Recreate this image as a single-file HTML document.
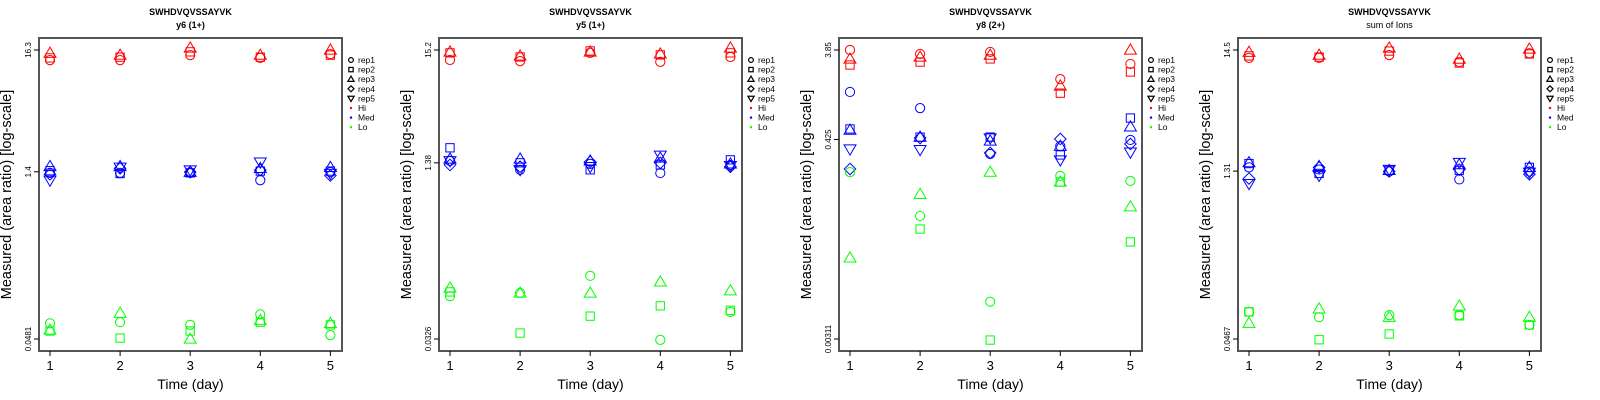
<!DOCTYPE html>
<html><head><meta charset="utf-8"><style>
html,body{margin:0;padding:0;background:#fff}
svg{display:block}
text{font-family:"Liberation Sans",Arial,sans-serif}
</style></head><body>
<svg id="chart" width="1600" height="400" xmlns="http://www.w3.org/2000/svg"></svg>
<script>
// ---------- data ----------
const days = [1, 2, 3, 4, 5];
const reps = ["rep1", "rep2", "rep3", "rep4", "rep5"];
const levels = ["Hi", "Med", "Lo"];
const panelTitles = ["y6 (1+)", "y5 (1+)", "y8 (2+)", "sum of Ions"];
const peptide = "SWHDVQVSSAYVK";
const tickLabels1 = ["0.0481", "1.4", "16.3"];
const tickLabels2 = ["0.0326", "1.38", "15.2"];
const tickLabels3 = ["0.00311", "0.425", "3.85"];
const tickLabels4 = ["0.0467", "1.31", "14.5"];
const tickValues1 = [0.0481, 1.4, 16.3];
const tickValues2 = [0.0326, 1.38, 15.2];
const tickValues3 = [0.00311, 0.425, 3.85];
const tickValues4 = [0.0467, 1.31, 14.5];
// values[day][rep] (null = not shown)
const p1Hi = [[13.3,13.9,15.3,null,null],[13.3,14.1,14.7,null,null],[14.7,15.7,17.0,null,null],[13.9,14.1,14.7,null,null],[15.0,14.7,16.3,null,null]];
const p1Med = [[1.37,1.43,1.56,1.33,1.18],[1.37,1.35,1.56,1.5,1.53],[1.37,1.37,1.39,1.39,1.45],[1.18,1.42,1.5,1.45,1.7],[1.39,1.42,1.53,1.3,1.35]];
const p1Lo = [[0.066,0.0565,0.0577,null,null],[0.0675,0.049,0.081,null,null],[0.064,0.0565,0.0481,null,null],[0.079,0.0675,0.070,null,null],[0.052,0.064,0.066,null,null]];
const p2Hi = [[12.3,14.3,14.6,null,null],[12.0,13.1,13.4,null,null],[14.3,14.9,14.6,null,null],[11.8,13.7,14.0,null,null],[13.1,14.3,15.9,null,null]];
const p2Med = [[1.44,1.90,1.50,1.32,1.44],[1.19,1.38,1.5,1.27,1.19],[1.35,1.19,1.44,1.41,1.27],[1.11,1.32,1.53,1.38,1.62],[1.32,1.47,1.35,1.27,1.30]];
const p2Lo = [[0.081,0.0887,0.0965,null,null],[0.0868,0.037,0.0868,null,null],[0.125,0.053,0.0868,null,null],[0.032,0.066,0.11,null,null],[0.058,0.060,0.091,null,null]];
const p3Hi = [[3.85,2.66,3.09,null,null],[3.49,2.86,3.24,null,null],[3.67,3.09,3.4,null,null],[1.88,1.33,1.59,null,null],[2.73,2.24,3.85,null,null]];
const p3Med = [[1.37,0.55,0.535,0.205,0.335],[0.92,0.45,0.45,0.44,0.33],[0.297,0.45,0.41,0.305,0.44],[0.36,0.29,0.36,0.43,0.256],[0.42,0.72,0.58,0.38,0.31]];
const p3Lo = [[0.19,null,0.023,null,null],[0.0644,0.0467,0.11,null,null],[0.0078,0.00303,0.19,null,null],[0.173,0.149,0.149,null,null],[0.153,0.034,0.081,null,null]];
const p4Hi = [[12.4,12.9,13.9,null,null],[12.4,12.6,13.1,null,null],[13.1,14.2,15.1,null,null],[11.4,11.2,12.1,null,null],[13.6,13.4,14.8,null,null]];
const p4Med = [[1.41,1.52,1.55,1.13,1.02],[1.35,1.25,1.44,1.41,1.2],[1.3,1.33,1.33,1.3,1.35],[1.11,1.33,1.49,1.35,1.55],[1.3,1.41,1.41,1.23,1.28]];
const p4Lo = [[0.080,0.080,0.064,null,null],[0.072,0.046,0.085,null,null],[0.075,0.0516,0.072,null,null],[0.075,0.074,0.090,null,null],[0.0617,0.0617,0.072,null,null]];

const panelData = [[p1Hi,p1Med,p1Lo],[p2Hi,p2Med,p2Lo],[p3Hi,p3Med,p3Lo],[p4Hi,p4Med,p4Lo]];
const panelTickLabels = [tickLabels1,tickLabels2,tickLabels3,tickLabels4];
const panelTickValues = [tickValues1,tickValues2,tickValues3,tickValues4];

// ---------- layout ----------
const boxLefts = [39, 439, 839, 1238];
const boxW = 303, boxTop = 38, boxBot = 351;
const yTop = 50, yBot = 339;
const colors = {Hi: "#ff0000", Med: "#0000ff", Lo: "#00ff00"};
const NS = "http://www.w3.org/2000/svg";
const svg = document.getElementById("chart");

function mk(tag, attrs, parent, txt) {
  const e = document.createElementNS(NS, tag);
  for (const k in attrs) e.setAttribute(k, attrs[k]);
  if (txt !== undefined) e.textContent = txt;
  parent.appendChild(e);
  return e;
}

function marker(shape, cx, cy, r, color, parent) {
  let e;
  if (shape === 0) e = mk("circle", {cx: cx, cy: cy, r: r}, parent);
  else if (shape === 1) { const s = r * 0.9; e = mk("rect", {x: cx - s, y: cy - s, width: 2 * s, height: 2 * s}, parent); }
  else if (shape === 2) { const s = r * 1.3; e = mk("polygon", {points: `${cx},${cy - s} ${cx + s},${cy + s * 0.7} ${cx - s},${cy + s * 0.7}`}, parent); }
  else if (shape === 3) { const s = r * 1.25; e = mk("polygon", {points: `${cx},${cy - s} ${cx + s},${cy} ${cx},${cy + s} ${cx - s},${cy}`}, parent); }
  else { const s = r * 1.3; e = mk("polygon", {points: `${cx},${cy + s} ${cx + s},${cy - s * 0.7} ${cx - s},${cy - s * 0.7}`}, parent); }
  e.setAttribute("fill", "none");
  e.setAttribute("stroke", color);
  e.setAttribute("stroke-width", "1");
  return e;
}

panelData.forEach((pd, pi) => {
  const L = boxLefts[pi], R = L + boxW, cxBox = L + boxW / 2;
  const tv = panelTickValues[pi], tl = panelTickLabels[pi];
  const lmin = Math.log(tv[0]), lmax = Math.log(tv[2]);
  const yScale = v => yBot - (Math.log(v) - lmin) / (lmax - lmin) * (yBot - yTop);
  const xScale = d => L + 11 + (d - 1) * 70.1;

  const g = mk("g", {}, svg);
  
  

  const t1 = mk("text", {x: cxBox, y: 15, "text-anchor": "middle", "font-size": "9", "font-weight": "bold"}, g, peptide);
  
  
  const t2 = mk("text", {x: cxBox, y: 28, "text-anchor": "middle", "font-size": "9", "font-weight": pi === 3 ? "normal" : "bold"}, g, panelTitles[pi]);
  
  

  const pts = mk("g", {}, g);
  
  
  pd.forEach((lev, li) => {
    const col = colors[levels[li]];
    lev.forEach((dayVals, di) => {
      dayVals.forEach((v, ri) => {
        if (v === null) return;
        const m = marker(ri, xScale(days[di]), yScale(v), 4.6, col, pts);
        
        
      });
    });
  });

  const box = mk("rect", {x: L, y: boxTop, width: boxW, height: boxBot - boxTop, fill: "none", stroke: "#555", "stroke-width": "2"}, g);
  
  

  const xa = mk("g", {}, g);
  
  
  days.forEach(d => {
    const x = xScale(d);
    mk("line", {x1: x, x2: x, y1: boxBot, y2: boxBot + 5, stroke: "#000", "stroke-width": "1"}, xa);
    const t = mk("text", {x: x, y: 370, "text-anchor": "middle", "font-size": "13"}, xa, String(d));
    
    
  });
  const xt = mk("text", {x: cxBox, y: 389, "text-anchor": "middle", "font-size": "14"}, g, "Time (day)");
  
  

  const ya = mk("g", {}, g);
  
  
  tv.forEach((v, i) => {
    const y = yScale(v);
    mk("line", {x1: L - 5, x2: L, y1: y, y2: y, stroke: "#000", "stroke-width": "1"}, ya);
    const t = mk("text", {x: 0, y: 0, "text-anchor": "middle", "font-size": "8", transform: `translate(${L - 8},${y}) rotate(-90)`}, ya, tl[i]);
    
    
  });
  const yt = mk("text", {x: 0, y: 0, "text-anchor": "middle", "font-size": "14.5", transform: `translate(${L - 28},${(boxTop + boxBot) / 2}) rotate(-90)`}, g, "Measured (area ratio) [log-scale]");
  
  

  const lg = mk("g", {}, g);
  
  
  const rows = reps.concat(levels);
  rows.forEach((lab, i) => {
    const y = 60 + i * 9.6;
    const ent = mk("g", {}, lg);
    
    
    if (i < 5) {
      const m = marker(i, R + 9, y, 2.4, "#000", ent);
      m.setAttribute("stroke-width", "1.2");
    } else {
      mk("circle", {cx: R + 9, cy: y, r: 1.2, fill: colors[lab]}, ent);
    }
    mk("text", {x: R + 16, y: y + 3, "font-size": "8.5"}, ent, lab);
  });
});
</script>
</body></html>
